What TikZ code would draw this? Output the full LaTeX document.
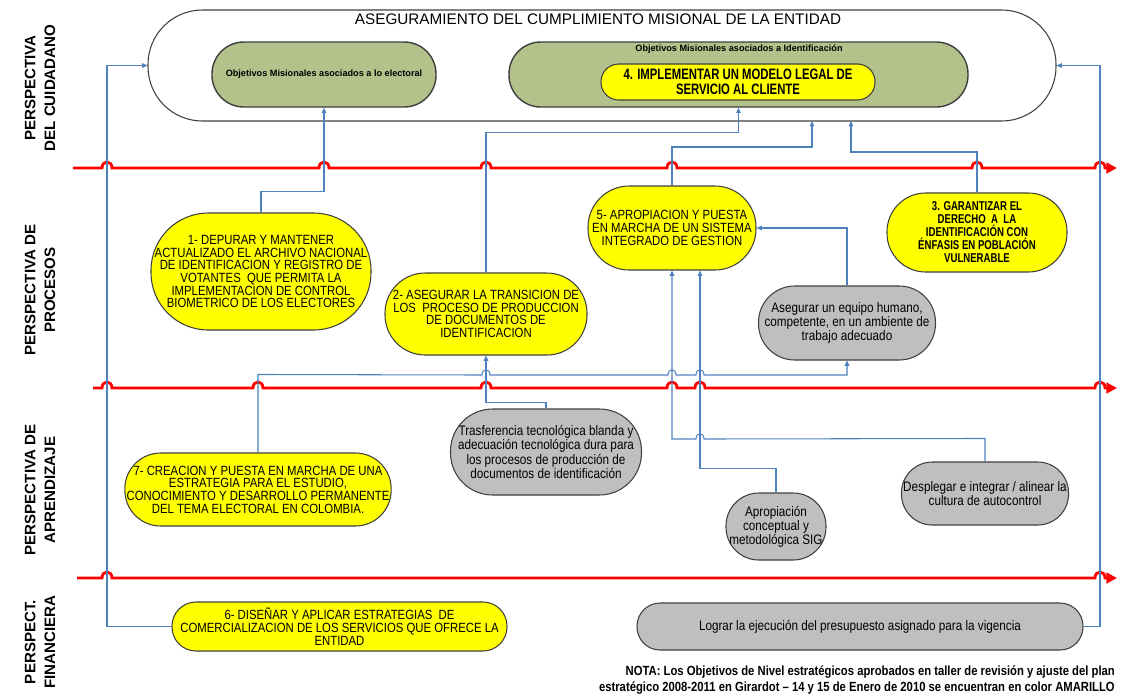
\documentclass[tikz,border=0pt]{standalone}
\usepackage{fontspec}
\setmainfont{Liberation Sans}
\newfontfamily\narrowsf{Liberation Sans}[FakeStretch=0.85, Ligatures=TeX]
\newfontfamily\narrowersf{Liberation Sans}[FakeStretch=0.75, Ligatures=TeX]
\usepackage{xcolor}
\usepackage{tikz}
\usetikzlibrary{positioning, arrows.meta, calc}
\definecolor{linkblue}{HTML}{4F81BD}
\definecolor{olivegreen}{HTML}{B3C28B}
\definecolor{objyellow}{HTML}{FFFF00}
\definecolor{objgray}{HTML}{BFBFBF}
\definecolor{edgegray}{HTML}{3F3F3F}
\definecolor{sepred}{HTML}{FF0000}
\newlength{\pxu}
\setlength{\pxu}{0.02cm}

\tikzset{
  pill/.style 2 args={minimum width=#1*\pxu, minimum height=#2*\pxu,
    rounded corners=0.49*#2*\pxu, inner sep=1pt, align=center},
  yellowobj/.style={draw=edgegray, fill=objyellow, line width=0.6pt,
    font=\narrowsf\fontsize{7.6}{7.2}\selectfont},
  grayobj/.style={draw=edgegray, fill=objgray, line width=0.6pt,
    font=\narrowsf\fontsize{7.85}{8}\selectfont},
  greenobj/.style={draw=edgegray, fill=olivegreen, line width=0.8pt},
  tinylabel/.style={font=\bfseries\fontsize{5.2}{6}\selectfont},
  link/.style={draw=linkblue, line width=0.6pt, -{Triangle[length=3pt,width=2.6pt]}},
  sepline/.style={draw=sepred, line width=1.6pt, -{Triangle[length=6pt,width=6pt]}},
  persp/.style={rotate=90, align=center, font=\bfseries\fontsize{8.6}{11.3}\selectfont},
}

\begin{document}
\begin{tikzpicture}[x=\pxu, y=-\pxu]
  \useasboundingbox (0,0) rectangle (1129,698);

  % perspectivas
  \node[persp] (pcuid) at (40,88) {PERSPECTIVA\\DEL CUIDADANO};
  \node[persp] (pproc) at (40,290) {PERSPECTIVA DE\\PROCESOS};
  \node[persp] (paprend) at (40,490) {PERSPECTIVA DE\\APRENDIZAJE};
  \node[persp] (pfin) at (40,642) {PERSPECT.\\FINANCIERA};

  % separadores
  \draw[sepline] (73,168) \foreach \h in {107,324,486,672,977,1100}{
      -- (\h-5,168) .. controls (\h-5,160) and (\h+5,160) .. (\h+5,168)} -- (1117,168);
  \draw[sepline] (93,388) \foreach \h in {107,258,486,672,700,1100}{
      -- (\h-5,388) .. controls (\h-5,380) and (\h+5,380) .. (\h+5,388)} -- (1117,388);
  \draw[sepline] (77,578) \foreach \h in {107,1100}{
      -- (\h-5,578) .. controls (\h-5,570) and (\h+5,570) .. (\h+5,578)} -- (1117,578);

  % cumplimiento misional
  \node[draw=edgegray, line width=0.6pt, fill=white, pill={908}{111}] (mision) at (602,65.5) {};
  \node[font=\fontsize{8.7}{10}\selectfont] (titulo) at (598,19)
    {ASEGURAMIENTO DEL CUMPLIMIENTO MISIONAL DE LA ENTIDAD};
  \node[greenobj, pill={224}{65}, tinylabel] (verde1) at (324,74.5)
    {Objetivos Misionales asociados a lo electoral};
  \node[greenobj, pill={459}{65}] (verde2) at (738.5,74.5) {};
  \node[tinylabel] (verde2lbl) at (739,49)
    {Objetivos Misionales asociados a Identificación};
  \node[yellowobj, pill={274}{36}, font=\bfseries\narrowersf\fontsize{8.6}{8.4}\selectfont] (n4) at (738,82)
    {4. IMPLEMENTAR UN MODELO LEGAL DE\\SERVICIO AL CLIENTE};
  \coordinate (entA) at (812,121);
  \coordinate (entB) at (851,121);
  \coordinate (lft) at (107,65.5);
  \coordinate (rgt) at (1100,65.5);

  % procesos
  \node[yellowobj, pill={220}{117}] (n1) at (261,271.5)
    {1-  DEPURAR Y MANTENER\\ACTUALIZADO EL ARCHIVO NACIONAL\\DE IDENTIFICACION Y REGISTRO DE\\
     VOTANTES \ QUE PERMITA LA\\IMPLEMENTACION DE CONTROL\\BIOMETRICO DE LOS ELECTORES};
  \node[yellowobj, pill={202}{82}] (n2) at (486,314)
    {2- ASEGURAR LA TRANSICION DE\\LOS \ PROCESO DE PRODUCCION\\DE DOCUMENTOS DE\\IDENTIFICACION};
  \node[yellowobj, pill={168}{84}] (n5) at (672,228)
    {5- APROPIACION Y PUESTA\\EN MARCHA DE UN SISTEMA\\INTEGRADO DE GESTION};
  \node[yellowobj, pill={180}{79}, font=\bfseries\narrowersf\fontsize{7.3}{7.4}\selectfont] (n3) at (977,232.5)
    {3. GARANTIZAR EL\\DERECHO \ A \ LA\\IDENTIFICACIÓN CON\\ÉNFASIS EN POBLACIÓN\\VULNERABLE};
  \node[grayobj, pill={177}{74}] (asegurar) at (847,323)
    {Asegurar un equipo humano,\\competente, en un ambiente de\\trabajo adecuado};

  % aprendizaje
  \node[grayobj, pill={191}{86}] (trasf) at (546,452)
    {Trasferencia tecnológica blanda y\\adecuación tecnológica dura para\\los procesos de producción de\\documentos de identificación};
  \node[yellowobj, pill={264}{73}] (n7) at (258,489.5)
    {7- CREACION Y PUESTA EN MARCHA DE UNA\\ESTRATEGIA PARA EL ESTUDIO,\\CONOCIMIENTO Y DESARROLLO PERMANENTE\\DEL TEMA ELECTORAL EN COLOMBIA.};
  \node[grayobj, pill={100}{67}] (aprop) at (776,526.5)
    {Apropiación\\conceptual y\\metodológica SIG};
  \node[grayobj, pill={167}{63}] (despl) at (985,493.5)
    {Desplegar e integrar / alinear la\\cultura de autocontrol};

  % financiera
  \node[yellowobj, pill={335}{49}] (n6) at (339.5,626.5)
    {6- DISEÑAR Y APLICAR ESTRATEGIAS \ DE\\COMERCIALIZACION DE LOS SERVICIOS QUE OFRECE LA\\ENTIDAD};
  \node[grayobj, pill={446}{47}] (lograr) at (860,626.5)
    {Lograr la ejecución del presupuesto asignado para la vigencia};
  \node[anchor=east, align=right, font=\bfseries\narrowsf\fontsize{7.55}{9}\selectfont] (nota) at (1121,680)
    {NOTA: Los Objetivos de Nivel estratégicos aprobados en taller de revisión y ajuste del plan\\
     estratégico 2008-2011 en Girardot -- 14 y 15 de Enero de 2010 se encuentran en color AMARILLO};

  % conectores
  \draw[link] (n6.west) -| (lft) -- (mision.west);
  \draw[link] (lograr.east) -| (rgt) -- (mision.east);
  \draw[link] (n1.north) -- ++(0,-21) -| (verde1.south);
  \draw[link] (n2.north) |- ($(verde2.south)+(0,25)$) -- (verde2.south);
  \draw[link] (n5.north) |- ($(entA)+(0,26)$) -- (entA);
  \draw[link] (n3.north) |- ($(entB)+(0,31)$) -- (entB);
  \draw[link] (n7.north) -- ++(0,-78) \foreach \h in {486,672,700}{
      -- (\h-4,375) .. controls (\h-4,368) and (\h+4,368) .. (\h+4,375)} -| (asegurar.south);
  \draw[link] (asegurar.north) |- (n5.east);
  \draw[link] (trasf.north) -- ++(0,-6) -| (n2.south);
  \draw[link] (despl.north) -- ++(0,-23) -- (704,439)
      .. controls (704,432) and (696,432) .. (696,439) -| (n5.south);
  \draw[link] (aprop.north) -- ++(0,-24) -| ([xshift=28\pxu]n5.south);
\end{tikzpicture}
\end{document}
